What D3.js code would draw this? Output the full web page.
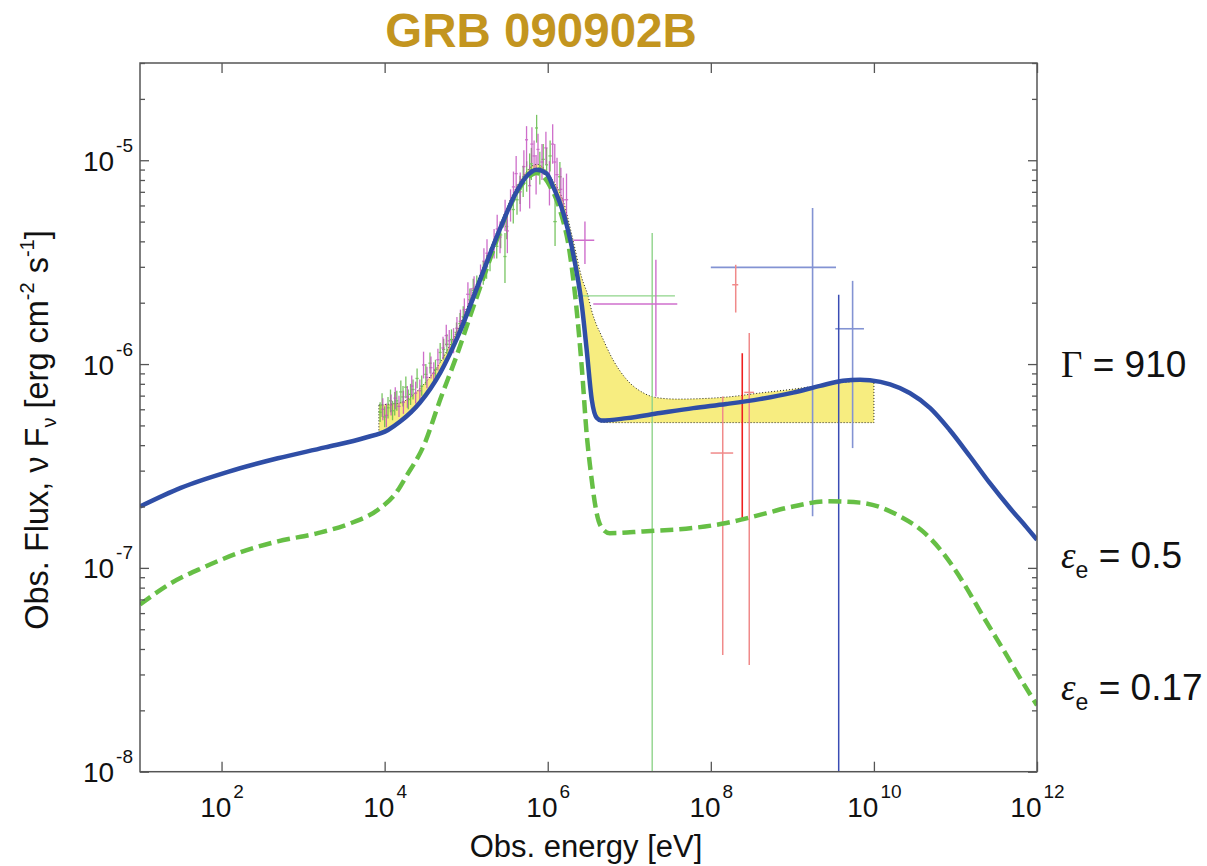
<!DOCTYPE html>
<html>
<head>
<meta charset="utf-8">
<script src="https://cdn.jsdelivr.net/npm/d3@7"></script>
<style>
  body { margin: 0; background: #fff; }
  svg { display: block; }
  text { font-family: "Liberation Sans", Arial, Helvetica, sans-serif; }
</style>
</head>
<body>
<svg id="chart" width="1207" height="866"></svg>
<script>
// ---- axis ticks ----
const energyTicks = [1e2, 1e4, 1e6, 1e8, 1e10, 1e12];
const fluxTicks = [1e-8, 1e-7, 1e-6, 1e-5];

// ---- model: Gamma = 910, eps_e = 0.5 (solid) ----
const totalE = [1e1, 3.16e1, 1.2e2, 4.9e2, 1.86e3, 5.75e3, 1.1e4, 1.55e4, 2.7e4, 4.8e4, 8.3e4,
  1.48e5, 2.57e5, 4.17e5, 5.5e5, 7.33e5, 9.7e5, 1.16e6, 1.55e6, 2.04e6, 2.63e6, 3.02e6, 3.47e6,
  3.98e6, 4.57e6, 9.33e6, 2.38e7, 6.1e7, 1.55e8, 3.98e8, 1.02e9, 2.19e9, 4.17e9, 6.76e9, 8.9e9,
  1.58e10, 2.75e10, 4.9e10, 8.5e10, 1.51e11, 2.63e11, 4.68e11, 7.41e11, 1e12];
const totalF = [2.0e-7, 2.47e-7, 2.96e-7, 3.45e-7, 3.90e-7, 4.35e-7, 4.75e-7, 5.22e-7, 6.46e-7, 9.06e-7, 1.43e-6,
  2.59e-6, 4.56e-6, 7.03e-6, 8.34e-6, 8.99e-6, 8.6e-6, 7.45e-6, 5.53e-6, 3.52e-6, 1.92e-6, 1.15e-6, 6.68e-7,
  5.45e-7, 5.28e-7, 5.43e-7, 5.75e-7, 6.08e-7, 6.37e-7, 6.73e-7, 7.24e-7, 7.82e-7, 8.28e-7, 8.38e-7, 8.32e-7,
  7.94e-7, 7.21e-7, 6.08e-7, 4.75e-7, 3.52e-7, 2.61e-7, 1.96e-7, 1.585e-7, 1.374e-7];

// ---- model: eps_e = 0.17 (dashed) ----
const lowE = [1e1, 2.4e1, 6.17e1, 1.58e2, 4.9e2, 1.51e3, 3.89e3, 8.3e3, 1.45e4, 1.82e4, 3.09e4,
  4.79e4, 7.59e4, 1.23e5, 1.95e5, 3.16e5, 5.01e5, 7.33e5, 1.07e6, 1.41e6, 1.86e6, 2.24e6, 2.63e6,
  3.02e6, 3.31e6, 3.98e6, 4.79e6, 5.75e6, 1.48e7, 6.1e7, 1.55e8, 3.98e8, 1.02e9, 2.63e9, 6.76e9,
  2.09e10, 3.98e10, 7.08e10, 1.26e11, 2.19e11, 3.89e11, 6.76e11, 1e12];
const lowF = [6.61e-8, 8.41e-8, 1.01e-7, 1.18e-7, 1.35e-7, 1.48e-7, 1.66e-7, 1.93e-7, 2.40e-7, 2.79e-7, 4.07e-7,
  6.68e-7, 1.09e-6, 1.92e-6, 3.25e-6, 5.51e-6, 7.74e-6, 8.67e-6, 7.45e-6, 5.71e-6, 3.52e-6, 1.92e-6, 9.38e-7,
  4.42e-7, 3.14e-7, 1.86e-7, 1.54e-7, 1.48e-7, 1.51e-7, 1.57e-7, 1.66e-7, 1.82e-7, 2.0e-7, 2.12e-7, 2.09e-7,
  1.79e-7, 1.51e-7, 1.18e-7, 8.41e-8, 5.77e-8, 3.95e-8, 2.72e-8, 2.12e-8];

// ---- spectral fit confidence region ----
const bandE = [8.5e3, 1.1e4, 1.55e4, 2.7e4, 4.8e4, 8.3e4, 1.48e5, 2.57e5, 4.17e5, 7.33e5, 1.16e6,
  1.55e6, 2.04e6, 2.63e6, 3.09e6, 3.47e6, 3.98e6, 4.37e6, 6.31e6, 9.33e6, 1.48e7, 2.19e7, 3.85e7,
  1.58e8, 3.98e8, 1.02e9, 2.63e9, 6.76e9, 1e10];
const bandLo = [4.5e-7, 4.7e-7, 5.13e-7, 6.31e-7, 8.91e-7, 1.40e-6, 2.54e-6, 4.47e-6, 6.92e-6, 8.91e-6, 7.41e-6,
  5.50e-6, 3.51e-6, 1.91e-6, 1.05e-6, 6.61e-7, 5.41e-7, 5.19e-7, 5.16e-7, 5.16e-7, 5.16e-7, 5.16e-7, 5.16e-7,
  5.16e-7, 5.16e-7, 5.16e-7, 5.16e-7, 5.16e-7, 5.16e-7];
const bandHi = [6.3e-7, 6.35e-7, 6.46e-7, 7.59e-7, 1.02e-6, 1.55e-6, 2.75e-6, 4.79e-6, 7.41e-6, 9.55e-6, 7.94e-6,
  6.31e-6, 4.07e-6, 2.63e-6, 2.19e-6, 1.82e-6, 1.55e-6, 1.43e-6, 1.05e-6, 8.38e-7, 7.23e-7, 6.84e-7, 6.73e-7,
  6.89e-7, 7.21e-7, 7.53e-7, 7.94e-7, 8.22e-7, 8.22e-7];

// ---- measured points: [E, E min, E max, flux, flux min, flux max] ----
const naiPoints = [
  [8.8e3, 8.4e3, 9.2e3, 5.8e-7, 5.2e-7, 6.5e-7],
  [9.3e3, 8.9e3, 9.7e3, 6.3e-7, 5.5e-7, 7.2e-7],
  [1.0e4, 9.6e3, 1.04e4, 5.5e-7, 4.9e-7, 6.2e-7],
  [1.1e4, 1.06e4, 1.15e4, 6.1e-7, 5.4e-7, 6.9e-7],
  [1.18e4, 1.13e4, 1.23e4, 6.6e-7, 5.8e-7, 7.5e-7],
  [1.25e4, 1.2e4, 1.3e4, 5.9e-7, 5.3e-7, 6.6e-7],
  [1.33e4, 1.27e4, 1.39e4, 6.4e-7, 5.6e-7, 7.3e-7],
  [1.41e4, 1.35e4, 1.47e4, 6.6e-7, 5.9e-7, 7.4e-7],
  [1.58e4, 1.51e4, 1.65e4, 7.3e-7, 6.4e-7, 8.3e-7],
  [1.68e4, 1.6e4, 1.76e4, 6.9e-7, 6.2e-7, 7.8e-7],
  [1.82e4, 1.74e4, 1.9e4, 7.7e-7, 6.8e-7, 8.7e-7],
  [1.95e4, 1.86e4, 2.04e4, 6.7e-7, 6.0e-7, 7.5e-7],
  [2.08e4, 1.99e4, 2.17e4, 7.1e-7, 6.3e-7, 8.0e-7],
  [2.23e4, 2.13e4, 2.33e4, 7.5e-7, 6.7e-7, 8.4e-7],
  [2.5e4, 2.39e4, 2.61e4, 8.5e-7, 7.6e-7, 9.5e-7],
  [2.85e4, 2.72e4, 2.98e4, 7.8e-7, 7.0e-7, 8.8e-7],
  [3.2e4, 3.06e4, 3.34e4, 8.9e-7, 7.9e-7, 1.0e-6],
  [3.6e4, 3.44e4, 3.77e4, 1.01e-6, 9.0e-7, 1.14e-6],
  [4.2e4, 4.0e4, 4.4e4, 9.4e-7, 8.5e-7, 1.05e-6],
  [4.8e4, 4.6e4, 5.0e4, 1.14e-6, 1.02e-6, 1.27e-6],
  [5.3e4, 5.07e4, 5.53e4, 1.18e-6, 1.05e-6, 1.33e-6],
  [5.8e4, 5.5e4, 6.1e4, 1.25e-6, 1.12e-6, 1.40e-6],
  [6.6e4, 6.3e4, 6.9e4, 1.32e-6, 1.18e-6, 1.48e-6],
  [7.6e4, 7.2e4, 8.0e4, 1.43e-6, 1.28e-6, 1.60e-6],
  [8.4e4, 8.0e4, 8.8e4, 1.58e-6, 1.4e-6, 1.78e-6],
  [9.2e4, 8.8e4, 9.6e4, 1.71e-6, 1.52e-6, 1.92e-6],
  [1.11e5, 1.06e5, 1.16e5, 2.07e-6, 1.83e-6, 2.35e-6],
  [1.22e5, 1.17e5, 1.27e5, 2.3e-6, 2.02e-6, 2.62e-6],
  [1.35e5, 1.29e5, 1.41e5, 2.40e-6, 2.12e-6, 2.72e-6],
  [1.62e5, 1.55e5, 1.69e5, 2.80e-6, 2.45e-6, 3.2e-6],
  [1.78e5, 1.7e5, 1.86e5, 3.0e-6, 2.62e-6, 3.44e-6],
  [1.96e5, 1.87e5, 2.05e5, 3.25e-6, 2.85e-6, 3.7e-6],
  [2.37e5, 2.26e5, 2.48e5, 3.78e-6, 3.3e-6, 4.35e-6],
  [2.65e5, 2.53e5, 2.77e5, 4.3e-6, 3.7e-6, 5.0e-6],
  [2.99e5, 2.86e5, 3.12e5, 3.37e-6, 2.5e-6, 4.4e-6],
  [3.14e5, 3.0e5, 3.28e5, 4.73e-6, 4.1e-6, 5.5e-6],
  [3.78e5, 3.61e5, 3.95e5, 5.73e-6, 4.9e-6, 6.7e-6],
  [4.2e5, 4.0e5, 4.4e5, 6.4e-6, 5.4e-6, 7.6e-6],
  [4.57e5, 4.37e5, 4.77e5, 7.18e-6, 6.1e-6, 8.4e-6],
  [5.0e5, 4.78e5, 5.22e5, 7.9e-6, 6.6e-6, 9.4e-6],
  [5.52e5, 5.28e5, 5.76e5, 8.34e-6, 7.0e-6, 9.9e-6],
  [6.0e5, 5.74e5, 6.26e5, 9.0e-6, 7.5e-6, 1.08e-5],
  [6.3e5, 6.0e5, 6.6e5, 9.6e-6, 8.0e-6, 1.15e-5],
  [7.31e5, 7.0e5, 7.6e5, 1.44e-5, 1.22e-5, 1.67e-5],
  [8.0e5, 7.65e5, 8.35e5, 9.2e-6, 7.6e-6, 1.1e-5],
  [8.81e5, 8.4e5, 9.2e5, 1.01e-5, 8.5e-6, 1.2e-5],
  [9.7e5, 9.3e5, 1.01e6, 9.5e-6, 7.8e-6, 1.15e-5],
  [1.07e6, 1.02e6, 1.12e6, 1.05e-5, 8.8e-6, 1.25e-5],
  [1.23e6, 1.17e6, 1.29e6, 5.0e-6, 3.8e-6, 6.5e-6],
  [1.41e6, 1.34e6, 1.48e6, 8.3e-6, 7.0e-6, 9.8e-6]
];
const bgoPoints = [
  [9.5e3, 9.1e3, 9.9e3, 6.0e-7, 5.3e-7, 6.8e-7],
  [1.05e4, 1.0e4, 1.1e4, 5.6e-7, 4.9e-7, 6.4e-7],
  [1.2e4, 1.15e4, 1.25e4, 6.3e-7, 5.6e-7, 7.1e-7],
  [1.35e4, 1.29e4, 1.41e4, 6.8e-7, 6.0e-7, 7.7e-7],
  [1.5e4, 1.43e4, 1.57e4, 6.2e-7, 5.5e-7, 7.0e-7],
  [1.7e4, 1.62e4, 1.78e4, 6.5e-7, 5.7e-7, 7.4e-7],
  [1.9e4, 1.81e4, 1.99e4, 6.9e-7, 6.1e-7, 7.8e-7],
  [2.15e4, 2.05e4, 2.25e4, 7.8e-7, 6.9e-7, 8.8e-7],
  [2.4e4, 2.29e4, 2.51e4, 7.2e-7, 6.4e-7, 8.2e-7],
  [2.7e4, 2.58e4, 2.82e4, 7.4e-7, 6.5e-7, 8.4e-7],
  [3.0e4, 2.87e4, 3.13e4, 9.9e-7, 8.5e-7, 1.15e-6],
  [3.3e4, 3.15e4, 3.45e4, 8.6e-7, 7.6e-7, 9.7e-7],
  [3.7e4, 3.54e4, 3.86e4, 9.6e-7, 8.5e-7, 1.09e-6],
  [4.0e4, 3.82e4, 4.18e4, 9.0e-7, 8.0e-7, 1.02e-6],
  [4.5e4, 4.3e4, 4.7e4, 1.05e-6, 9.3e-7, 1.19e-6],
  [5.2e4, 4.97e4, 5.43e4, 1.20e-6, 1.06e-6, 1.36e-6],
  [5.7e4, 5.45e4, 5.95e4, 1.38e-6, 1.22e-6, 1.56e-6],
  [6.2e4, 5.92e4, 6.48e4, 1.30e-6, 1.15e-6, 1.47e-6],
  [7.0e4, 6.7e4, 7.3e4, 1.30e-6, 1.13e-6, 1.50e-6],
  [7.7e4, 7.36e4, 8.04e4, 1.5e-6, 1.32e-6, 1.7e-6],
  [8.5e4, 8.1e4, 8.9e4, 1.62e-6, 1.42e-6, 1.85e-6],
  [9.5e4, 9.08e4, 9.92e4, 1.85e-6, 1.62e-6, 2.1e-6],
  [1.05e5, 1.0e5, 1.1e5, 2.20e-6, 1.92e-6, 2.52e-6],
  [1.15e5, 1.1e5, 1.2e5, 2.05e-6, 1.78e-6, 2.36e-6],
  [1.25e5, 1.19e5, 1.31e5, 2.35e-6, 2.05e-6, 2.70e-6],
  [1.5e5, 1.43e5, 1.57e5, 2.66e-6, 2.3e-6, 3.08e-6],
  [1.65e5, 1.58e5, 1.72e5, 3.2e-6, 2.75e-6, 3.7e-6],
  [1.8e5, 1.72e5, 1.88e5, 3.5e-6, 3.0e-6, 4.1e-6],
  [2.2e5, 2.1e5, 2.3e5, 3.9e-6, 3.3e-6, 4.6e-6],
  [2.4e5, 2.3e5, 2.5e5, 4.6e-6, 3.9e-6, 5.4e-6],
  [2.6e5, 2.48e5, 2.72e5, 4.2e-6, 3.5e-6, 5.0e-6],
  [3.0e5, 2.87e5, 3.13e5, 5.4e-6, 4.5e-6, 6.4e-6],
  [3.2e5, 3.06e5, 3.34e5, 4.5e-6, 3.5e-6, 5.7e-6],
  [3.5e5, 3.34e5, 3.66e5, 6.0e-6, 5.0e-6, 7.2e-6],
  [3.8e5, 3.63e5, 3.97e5, 7.4e-6, 6.2e-6, 8.8e-6],
  [4.1e5, 3.92e5, 4.28e5, 8.6e-6, 7.0e-6, 1.05e-5],
  [4.6e5, 4.4e5, 4.8e5, 7.0e-6, 5.6e-6, 8.7e-6],
  [5.1e5, 4.88e5, 5.32e5, 9.3e-6, 7.6e-6, 1.12e-5],
  [5.5e5, 5.26e5, 5.74e5, 1.26e-5, 9.3e-6, 1.47e-5],
  [6.0e5, 5.74e5, 6.26e5, 7.5e-6, 5.8e-6, 9.5e-6],
  [6.4e5, 6.12e5, 6.68e5, 1.2e-5, 9.7e-6, 1.45e-5],
  [6.8e5, 6.5e5, 7.1e5, 1.05e-5, 8.8e-6, 1.25e-5],
  [7.2e5, 6.89e5, 7.51e5, 8.6e-6, 6.8e-6, 1.06e-5],
  [7.6e5, 7.27e5, 7.93e5, 1.13e-5, 9.5e-6, 1.35e-5],
  [8.5e5, 8.13e5, 8.87e5, 9.8e-6, 8.0e-6, 1.2e-5],
  [9.5e5, 9.08e5, 9.92e5, 1.15e-5, 9.5e-6, 1.38e-5],
  [1.05e6, 1.0e6, 1.1e6, 7.8e-6, 6.0e-6, 9.9e-6],
  [1.15e6, 1.1e6, 1.2e6, 1.2e-5, 9.6e-6, 1.5e-5],
  [1.22e6, 1.17e6, 1.27e6, 9.8e-6, 7.8e-6, 1.2e-5],
  [1.3e6, 1.24e6, 1.36e6, 8.5e-6, 7.0e-6, 1.03e-5],
  [1.45e6, 1.39e6, 1.51e6, 7.2e-6, 5.5e-6, 9.2e-6],
  [1.55e6, 1.48e6, 1.62e6, 6.4e-6, 4.9e-6, 8.2e-6],
  [1.7e6, 1.62e6, 1.78e6, 6.4e-6, 4.8e-6, 8.6e-6]
];
const bgoHighPoints = [
  [2.86e6, 2.06e6, 3.72e6, 4.05e-6, 3.10e-6, 5.01e-6],
  [2.12e7, 3.62e6, 3.88e7, 1.97e-6, 6.93e-7, 3.25e-6]
];
const naiHighPoints = [
  [1.91e7, 2.27e6, 3.63e7, 2.16e-6, 1e-9, 4.40e-6]
];
const latPoints = [
  [1.77e9, 1.0e8, 3.43e9, 2.98e-6, 1.79e-7, 5.83e-6],
  [5.48e9, 3.36e9, 7.55e9, 1.49e-6, 3.87e-7, 2.56e-6]
];
const latDarkPoints = [
  [3.70e9, 3.70e9, 3.70e9, null, 1e-9, 2.19e-6]
];
const lleLightPoints = [
  [2.02e8, 1.83e8, 2.17e8, 2.45e-6, 1.79e-6, 3.07e-6],
  [1.40e8, 9.95e7, 1.88e8, 3.66e-7, 3.74e-8, 6.93e-7],
  [2.96e8, 2.57e8, 3.39e8, 7.26e-7, 3.34e-8, 1.42e-6]
];
const lleBrightPoints = [
  [2.43e8, 2.43e8, 2.43e8, null, 1.72e-7, 1.13e-6]
];

// ---- layout ----
const plotLeft = 140, plotRight = 1037, plotTop = 63, plotBottom = 771.7;
const svg = d3.select('#chart');
const x = d3.scaleLog().domain([1e1, 1e12]).range([plotLeft, plotRight]);
const y = d3.scaleLog().domain([1e-8, 3e-5]).range([plotBottom, plotTop]);

svg.append('defs').append('clipPath').attr('id', 'plot-clip')
  .append('rect').attr('x', plotLeft).attr('y', plotTop)
  .attr('width', plotRight - plotLeft).attr('height', plotBottom - plotTop);

const plot = svg.append('g').attr('clip-path', 'url(#plot-clip)');

// confidence region
const band = bandE.map((e, i) => ({ e, lo: bandLo[i], hi: bandHi[i] }));
plot.append('path')
  .datum(band)
  .attr('d', d3.area().x(d => x(d.e)).y0(d => y(d.lo)).y1(d => y(d.hi)).curve(d3.curveMonotoneX))
  .attr('fill', '#f7ed80')
  .attr('stroke', '#222')
  .attr('stroke-width', 1)
  .attr('stroke-dasharray', '1,2');

// error crosses
function crosses(rows, color, width, opacity) {
  const g = plot.append('g').attr('stroke', color).attr('stroke-width', width).attr('opacity', opacity);
  g.selectAll('line.v').data(rows).join('line').attr('class', 'v')
    .attr('x1', d => x(d[0])).attr('x2', d => x(d[0]))
    .attr('y1', d => y(d[4])).attr('y2', d => y(d[5]));
  g.selectAll('line.h').data(rows.filter(d => d[3] !== null && d[1] !== d[2])).join('line').attr('class', 'h')
    .attr('x1', d => x(d[1])).attr('x2', d => x(d[2]))
    .attr('y1', d => y(d[3])).attr('y2', d => y(d[3]));
}
crosses(naiPoints, '#62bb48', 1.3, 0.85);
crosses(bgoPoints, '#c24abd', 1.3, 0.8);
crosses(naiHighPoints, '#8fd48a', 1.4, 1);
crosses(bgoHighPoints, '#cf6fcc', 1.4, 1);
crosses(latPoints, '#8393d3', 1.6, 1);
crosses(latDarkPoints, '#3a4cb4', 1.5, 1);
crosses(lleLightPoints, '#f08a8a', 1.5, 1);
crosses(lleBrightPoints, '#ee2020', 1.6, 1);

// model curves
const line = d3.line().x(d => x(d[0])).y(d => y(d[1])).curve(d3.curveMonotoneX);
plot.append('path')
  .datum(lowE.map((e, i) => [e, lowF[i]]))
  .attr('d', line)
  .attr('fill', 'none')
  .attr('stroke', '#66bf45')
  .attr('stroke-width', 4.5)
  .attr('stroke-dasharray', '13,6');
plot.append('path')
  .datum(totalE.map((e, i) => [e, totalF[i]]))
  .attr('d', line)
  .attr('fill', 'none')
  .attr('stroke', '#2f4ea6')
  .attr('stroke-width', 4.5)
  .attr('stroke-linejoin', 'round');

// ---- axes ----
const tickColor = '#555';
function styleAxis(g) {
  g.select('.domain').remove();
  g.selectAll('.tick line').attr('stroke', tickColor).attr('stroke-width', 1.3);
  g.selectAll('.tick text').remove();
}
function powerLabel(sel, exp, anchor, dx, dy) {
  const t = sel.append('text')
    .attr('x', dx).attr('y', dy)
    .attr('text-anchor', anchor)
    .attr('fill', '#111')
    .attr('font-size', 28)
    .attr('font-family', '"Liberation Sans", Arial, sans-serif');
  t.append('tspan').text('10');
  t.append('tspan').attr('dx', 2).attr('dy', -19).attr('font-size', 19).text(exp);
}

// bottom and top energy ticks
const gxb = svg.append('g').attr('transform', `translate(0,${plotBottom})`)
  .call(d3.axisBottom(x).tickValues(energyTicks).tickSizeInner(-10).tickSizeOuter(0));
styleAxis(gxb);
gxb.selectAll('.tick').each(function (d) {
  powerLabel(d3.select(this), String(Math.round(Math.log10(d))), 'middle', 0, 45);
});
const gxt = svg.append('g').attr('transform', `translate(0,${plotTop})`)
  .call(d3.axisTop(x).tickValues(energyTicks).tickSizeInner(-10).tickSizeOuter(0));
styleAxis(gxt);

// flux ticks (major labelled, minor at 2..9 of each decade)
const minorFlux = [];
fluxTicks.forEach(t => { for (let k = 2; k <= 9; k++) { const v = t * k; if (v <= 3.0001e-5) minorFlux.push(v); } });

const gyl = svg.append('g').attr('transform', `translate(${plotLeft},0)`)
  .call(d3.axisLeft(y).tickValues(fluxTicks).tickSizeInner(-9).tickSizeOuter(0));
styleAxis(gyl);
gyl.selectAll('.tick').each(function (d) {
  powerLabel(d3.select(this), String(Math.round(Math.log10(d))), 'end', -7, 10);
});
const gylm = svg.append('g').attr('transform', `translate(${plotLeft},0)`)
  .call(d3.axisLeft(y).tickValues(minorFlux).tickSizeInner(-5).tickSizeOuter(0));
styleAxis(gylm);
const gyr = svg.append('g').attr('transform', `translate(${plotRight},0)`)
  .call(d3.axisRight(y).tickValues(fluxTicks).tickSizeInner(-9).tickSizeOuter(0));
styleAxis(gyr);
const gyrm = svg.append('g').attr('transform', `translate(${plotRight},0)`)
  .call(d3.axisRight(y).tickValues(minorFlux).tickSizeInner(-5).tickSizeOuter(0));
styleAxis(gyrm);

// frame
svg.append('rect')
  .attr('x', plotLeft).attr('y', plotTop)
  .attr('width', plotRight - plotLeft).attr('height', plotBottom - plotTop)
  .attr('fill', 'none').attr('stroke', tickColor).attr('stroke-width', 1.5);

// axis titles
svg.append('text')
  .attr('x', 586).attr('y', 857)
  .attr('text-anchor', 'middle')
  .attr('font-size', 31)
  .attr('fill', '#111')
  .text('Obs. energy [eV]');

const yl = svg.append('text')
  .attr('transform', 'translate(48,430) rotate(-90)')
  .attr('text-anchor', 'middle')
  .attr('font-size', 32.5)
  .attr('fill', '#111');
yl.append('tspan').text('Obs. Flux, ν F');
yl.append('tspan').attr('dy', 8).attr('font-size', 20).text('ν');
yl.append('tspan').attr('dy', -8).text(' [erg cm');
yl.append('tspan').attr('dy', -14).attr('font-size', 20).text('-2');
yl.append('tspan').attr('dy', 14).text(' s');
yl.append('tspan').attr('dy', -14).attr('font-size', 20).text('-1');
yl.append('tspan').attr('dy', 14).text(']');

// title
svg.append('text')
  .attr('x', 541).attr('y', 47)
  .attr('text-anchor', 'middle')
  .attr('font-size', 47.5)
  .attr('font-weight', 'bold')
  .attr('fill', '#c3951f')
  .text('GRB 090902B');

// parameter annotations
const gammaLabel = svg.append('text').attr('x', 1061).attr('y', 377).attr('font-size', 37).attr('fill', '#111');
gammaLabel.append('tspan').attr('font-family', '"Liberation Serif", "Times New Roman", serif').text('Γ');
gammaLabel.append('tspan').text(' = 910');

const epsLabels = [["0.5", 568], ["0.17", 700]];
epsLabels.forEach(([val, yy]) => {
  const t = svg.append('text').attr('x', 1061).attr('y', yy).attr('font-size', 37).attr('fill', '#111');
  t.append('tspan').attr('font-family', '"Liberation Serif", "Times New Roman", serif').attr('font-style', 'italic').text('ε');
  t.append('tspan').attr('dy', 10).attr('font-size', 23).text('e');
  t.append('tspan').attr('dy', -10).text(' = ' + val);
});
</script>
</body>
</html>
